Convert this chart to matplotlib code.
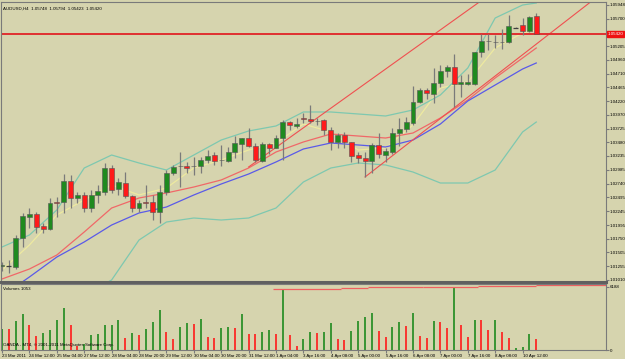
import matplotlib
matplotlib.use('Agg')
import matplotlib.pyplot as plt
import matplotlib.transforms as mtransforms

plt.rcParams['font.family'] = ['Liberation Sans', 'DejaVu Sans']

#Datos de las velas AUDUSD H4 (apertura, maximo, minimo, cierre)
abre = [1.01261, 1.01261, 1.01243, 1.01763, 1.02140, 1.02194, 1.01979, 1.01925, 1.02409, 1.02409,
        1.02786, 1.02481, 1.02535, 1.02301, 1.02535, 1.02588, 1.03019, 1.02642, 1.02750, 1.02517,
        1.02301, 1.02409, 1.02409, 1.02230, 1.02588, 1.02929, 1.03055, 1.03055, 1.03055, 1.03055,
        1.03163, 1.03252, 1.03163, 1.03145, 1.03306, 1.03450, 1.03557, 1.03414, 1.03145, 1.03450,
        1.03378, 1.03557, 1.03844, 1.03773, 1.03916, 1.03898, 1.03862, 1.03880, 1.03701, 1.03486,
        1.03611, 1.03486, 1.03252, 1.03198, 1.03145, 1.03432, 1.03252, 1.03306, 1.03647, 1.03719,
        1.03826, 1.04203, 1.04418, 1.04347, 1.04544, 1.04759, 1.04831, 1.04526, 1.04526, 1.04526,
        1.05100, 1.05297, 1.05280, 1.05280, 1.05280, 1.05531, 1.05584, 1.05477, 1.05748]
alto = [1.01333, 1.01369, 1.01817, 1.02212, 1.02301, 1.02230, 1.02032, 1.02481, 1.02499, 1.02911,
        1.02893, 1.02588, 1.02588, 1.02624, 1.02714, 1.03109, 1.03073, 1.02840, 1.02947, 1.02535,
        1.02445, 1.02714, 1.02535, 1.02714, 1.02983, 1.03073, 1.03306, 1.03127, 1.03216, 1.03216,
        1.03342, 1.03306, 1.03432, 1.03396, 1.03593, 1.03557, 1.03737, 1.03468, 1.03486, 1.03468,
        1.03611, 1.03880, 1.03862, 1.03916, 1.04006, 1.04149, 1.03916, 1.03898, 1.03755, 1.03647,
        1.03665, 1.03486, 1.03306, 1.03306, 1.03468, 1.03647, 1.03378, 1.03737, 1.03916, 1.03934,
        1.04490, 1.04454, 1.04454, 1.04813, 1.04867, 1.04867, 1.05064, 1.04687, 1.04705, 1.05100,
        1.05423, 1.05423, 1.05405, 1.05513, 1.05764, 1.05540, 1.05710, 1.05746, 1.05794]
bajo = [1.01171, 1.01135, 1.01207, 1.01602, 1.01943, 1.01853, 1.01853, 1.01907, 1.02140, 1.02212,
        1.02301, 1.02391, 1.02230, 1.02230, 1.02391, 1.02535, 1.02571, 1.02535, 1.02481, 1.02230,
        1.02230, 1.02301, 1.02086, 1.02032, 1.02535, 1.02893, 1.02678, 1.02929, 1.02893, 1.02929,
        1.03109, 1.03073, 1.03055, 1.03127, 1.03198, 1.03163, 1.03396, 1.03127, 1.03127, 1.03270,
        1.03378, 1.03163, 1.03701, 1.03737, 1.03826, 1.03826, 1.03790, 1.03611, 1.03342, 1.03378,
        1.03378, 1.03127, 1.03109, 1.02858, 1.02929, 1.03198, 1.03127, 1.03270, 1.03414, 1.03665,
        1.03790, 1.04185, 1.04257, 1.04185, 1.04472, 1.04652, 1.04113, 1.04293, 1.04508, 1.04508,
        1.05010, 1.05136, 1.05172, 1.05154, 1.05262, 1.05525, 1.05405, 1.05459, 1.05423]
cierre = [1.01279, 1.01261, 1.01763, 1.02158, 1.02194, 1.01961, 1.01925, 1.02391, 1.02400, 1.02786,
          1.02481, 1.02535, 1.02301, 1.02535, 1.02606, 1.03019, 1.02624, 1.02768, 1.02517, 1.02301,
          1.02391, 1.02400, 1.02230, 1.02588, 1.02929, 1.03037, 1.03050, 1.03019, 1.03050, 1.03163,
          1.03234, 1.03145, 1.03158, 1.03306, 1.03468, 1.03557, 1.03414, 1.03163, 1.03450, 1.03378,
          1.03557, 1.03844, 1.03790, 1.03808, 1.03898, 1.03862, 1.03858, 1.03701, 1.03486, 1.03611,
          1.03486, 1.03234, 1.03198, 1.03145, 1.03432, 1.03270, 1.03324, 1.03647, 1.03719, 1.03844,
          1.04203, 1.04418, 1.04365, 1.04544, 1.04759, 1.04831, 1.04526, 1.04562, 1.04562, 1.05100,
          1.05297, 1.05290, 1.05285, 1.05285, 1.05567, 1.05531, 1.05477, 1.05728, 1.05420]

#Volumen de cada vela y si sube (G) o baja (R)
volumen = [2061, 2061, 2790, 3519, 2473, 1363, 1617, 1997, 2948, 4153,
           2473, 349, 571, 1427, 1585, 2441, 2473, 2948, 1205, 1617,
           1427, 2061, 2695, 3899, 1807, 1078, 2282, 2631, 2504, 3043,
           1268, 1141, 2156, 2282, 2187, 3519, 1522, 1522, 1807, 1965,
           1522, 5960, 1490, 349, 1078, 1775, 1617, 1775, 2663, 1078,
           1014, 1902, 2790, 3265, 3582, 1870, 1300, 2251, 2726, 2378,
           3646, 1331, 1141, 2790, 2726, 2124, 6188, 2473, 1236, 2948,
           2948, 1997, 2948, 1744, 1205, 160, 317, 1522, 1053]
vol_color = ['G', 'R', 'G', 'G', 'R', 'R', 'G', 'G', 'G', 'G',
             'R', 'R', 'G', 'G', 'G', 'G', 'G', 'G', 'R', 'G',
             'R', 'G', 'G', 'G', 'R', 'R', 'G', 'G', 'R', 'G',
             'R', 'R', 'G', 'G', 'R', 'G', 'R', 'R', 'G', 'G',
             'R', 'G', 'R', 'R', 'G', 'G', 'R', 'G', 'G', 'R',
             'R', 'G', 'G', 'G', 'G', 'R', 'R', 'G', 'G', 'R',
             'G', 'R', 'R', 'G', 'R', 'R', 'G', 'R', 'R', 'G',
             'R', 'R', 'G', 'R', 'R', 'G', 'G', 'G', 'R']

#Linea escalonada del panel de volumen
escalon_ini = [39.5, 49.5, 53.5, 61.5, 69.5, 78.0]
escalon_fin = [49.5, 53.5, 61.5, 69.5, 78.0, 88.2]
escalon_val = [5990, 6060, 6130, 6200, 6270, 6340]

#Indicadores leidos cada 4 velas
ma_idx = [0, 4, 8, 12, 16, 20, 24, 28, 32, 36, 40, 44, 48, 52, 56, 60, 64, 68, 72, 76, 78]
ma_roja = [1.01028, 1.01207, 1.01458, 1.01871, 1.02301, 1.02481, 1.02571, 1.02678, 1.02804, 1.03019,
           1.03306, 1.03486, 1.03629, 1.03593, 1.03557, 1.03647, 1.03916, 1.04239, 1.04634, 1.04992, 1.05172]
ma_azul = [1.00723, 1.01064, 1.01422, 1.01692, 1.01996, 1.02212, 1.02319, 1.02535, 1.02732, 1.02911,
           1.03127, 1.03360, 1.03468, 1.03432, 1.03396, 1.03521, 1.03808, 1.04221, 1.04508, 1.04795, 1.04903]
bb_sup = [1.01602, 1.01817, 1.02266, 1.03019, 1.03252, 1.03109, 1.02983, 1.03252, 1.03521, 1.03683,
          1.03773, 1.04024, 1.04024, 1.03988, 1.03952, 1.04060, 1.04329, 1.04813, 1.05710, 1.05943, 1.05979]
bb_inf = [1.00113, 1.00292, 1.00561, 1.00741, 1.01010, 1.01727, 1.02050, 1.02122, 1.02086, 1.02122,
          1.02301, 1.02768, 1.03019, 1.03109, 1.03073, 1.02947, 1.02750, 1.02750, 1.02983, 1.03665, 1.03844]
ma_amarilla = [1.01189, 1.01638, 1.02176, 1.02445, 1.02714, 1.02535, 1.02660, 1.03019, 1.03163, 1.03342,
               1.03468, 1.03808, 1.03665, 1.03342, 1.03378, 1.03790, 1.04454, 1.04562, 1.05172, 1.05441, 1.05495]

#Lineas del canal (indice de vela, precio)
canal_sup_x = [36.0, 70.1]
canal_sup_y = [1.03037, 1.06033]
canal_inf_x = [53.0, 86.3]
canal_inf_y = [1.02858, 1.06033]
precio_actual = 1.05420

#Ejes (la etiqueta 1.05455 queda tapada por el precio actual)
precios_ticks = [1.05948, 1.05700, 1.05455, 1.05205, 1.04960, 1.04710, 1.04465, 1.04220, 1.03970, 1.03725,
                 1.03480, 1.03235, 1.02985, 1.02740, 1.02495, 1.02245, 1.01995, 1.01750, 1.01505, 1.01255, 1.01010]
etiquetas_precio = ['1.05948', '1.05700', '', '1.05205', '1.04960', '1.04710', '1.04465', '1.04220',
                    '1.03970', '1.03725', '1.03480', '1.03235', '1.02985', '1.02740', '1.02495', '1.02245',
                    '1.01995', '1.01750', '1.01505', '1.01255', '1.01010']
x_ticks = [0, 4, 8, 12, 16, 20, 24, 28, 32, 36, 40, 44, 48, 52, 56, 60, 64, 68, 72, 76]
etiquetas_x = ['23 Mar 2011', '24 Mar 12:00', '25 Mar 04:00', '27 Mar 12:00', '28 Mar 04:00',
               '28 Mar 20:00', '29 Mar 12:00', '30 Mar 04:00', '30 Mar 20:00', '31 Mar 12:00',
               '1 Apr 04:00', '3 Apr 16:00', '4 Apr 08:00', '5 Apr 00:00', '5 Apr 16:00',
               '6 Apr 08:00', '7 Apr 00:00', '7 Apr 16:00', '8 Apr 08:00', '10 Apr 12:00']

fondo = '#d6d4ae'
gris = '#7a7a7a'
verde = '#1f8a1f'
rojo = '#ff1a1a'
fs = 3.2

fig = plt.figure(figsize=(6.25, 3.59), dpi=100, facecolor=fondo)
ax = fig.add_axes([1/625, 77/359, 605/625, 280/359], facecolor=fondo)
axv = fig.add_axes([1/625, 9/359, 605/625, 66/359], facecolor=fondo, sharex=ax)

#Bandas y medias
ax.plot(ma_idx, ma_amarilla, color='#eeeaa0', lw=0.9, zorder=1)
ax.plot(ma_idx, bb_sup, color='#7ec8b0', lw=0.9, zorder=1)
ax.plot(ma_idx, bb_inf, color='#7ec8b0', lw=0.9, zorder=1)
ax.plot(ma_idx, ma_roja, color='#f06868', lw=0.9, zorder=1)
ax.plot(ma_idx, ma_azul, color='#5a5ae8', lw=0.9, zorder=1)
ax.plot(canal_sup_x, canal_sup_y, color='#f05050', lw=0.8, zorder=1)
ax.plot(canal_inf_x, canal_inf_y, color='#f05050', lw=0.8, zorder=1)
ax.axhline(precio_actual, color='#e03030', lw=1.4, zorder=1)

#Velas
for i in range(len(abre)):
    ax.vlines(i, bajo[i], alto[i], color=gris, lw=0.9, zorder=2)
    if abs(cierre[i] - abre[i]) < 0.00004:
        ax.hlines(abre[i], i - 0.35, i + 0.35, color='#404040', lw=0.9, zorder=3)
    else:
        c = verde if cierre[i] > abre[i] else rojo
        ax.bar(i, cierre[i] - abre[i], bottom=abre[i], width=0.72, color=c,
               edgecolor='#555555', lw=0.4, zorder=3)

#Volumenes
for i in range(len(volumen)):
    c = verde if vol_color[i] == 'G' else rojo
    axv.vlines(i, 0, volumen[i], color=c, lw=1.2)
axv.hlines(escalon_val, escalon_ini, escalon_fin, color='#f06060', lw=0.9)

ax.set_xlim(-0.15, 88.18)
ax.set_ylim(1.00974, 1.05997)
axv.set_ylim(0, 6450)

ax.yaxis.tick_right()
ax.set_yticks(precios_ticks)
ax.set_yticklabels(etiquetas_precio, fontsize=fs)
ax.tick_params(axis='y', length=2, pad=0.8, color=gris)
ax.tick_params(axis='x', bottom=False, labelbottom=False)

axv.yaxis.tick_right()
axv.set_yticks([0, 6188])
axv.set_yticklabels(['0', '6188'], fontsize=fs)
axv.tick_params(axis='y', length=2, pad=0.8, color=gris)
axv.set_xticks(x_ticks)
axv.set_xticklabels(etiquetas_x, fontsize=fs, ha='left')
axv.tick_params(axis='x', length=2, pad=1, color=gris)

for a in (ax, axv):
    for s in a.spines.values():
        s.set_color(gris)
        s.set_linewidth(0.8)
ax.spines['bottom'].set_linewidth(2.2)
ax.spines['bottom'].set_color('#606060')

#Textos
ax.text(0.004, 0.985, 'AUDUSD,H4  1.05748  1.05794  1.05423  1.05420', transform=ax.transAxes,
        fontsize=fs, va='top', ha='left')
tr = mtransforms.blended_transform_factory(ax.transAxes, ax.transData)
ax.text(1.003, precio_actual, '1.05420', transform=tr, fontsize=fs, color='white', va='center',
        ha='left', clip_on=False, zorder=10,
        bbox=dict(boxstyle='square,pad=0.2', fc='#ee1111', ec='#ee1111'))
axv.text(0.004, 0.96, 'Volumes 1053', transform=axv.transAxes, fontsize=fs, va='top', ha='left')
axv.text(0.004, 0.05, 'OANDA - MT4, \u00a9 2001-2011 MetaQuotes Software Corp.', transform=axv.transAxes,
         fontsize=fs, va='bottom', ha='left')

fig.savefig('out.png', dpi=100, facecolor=fondo)
